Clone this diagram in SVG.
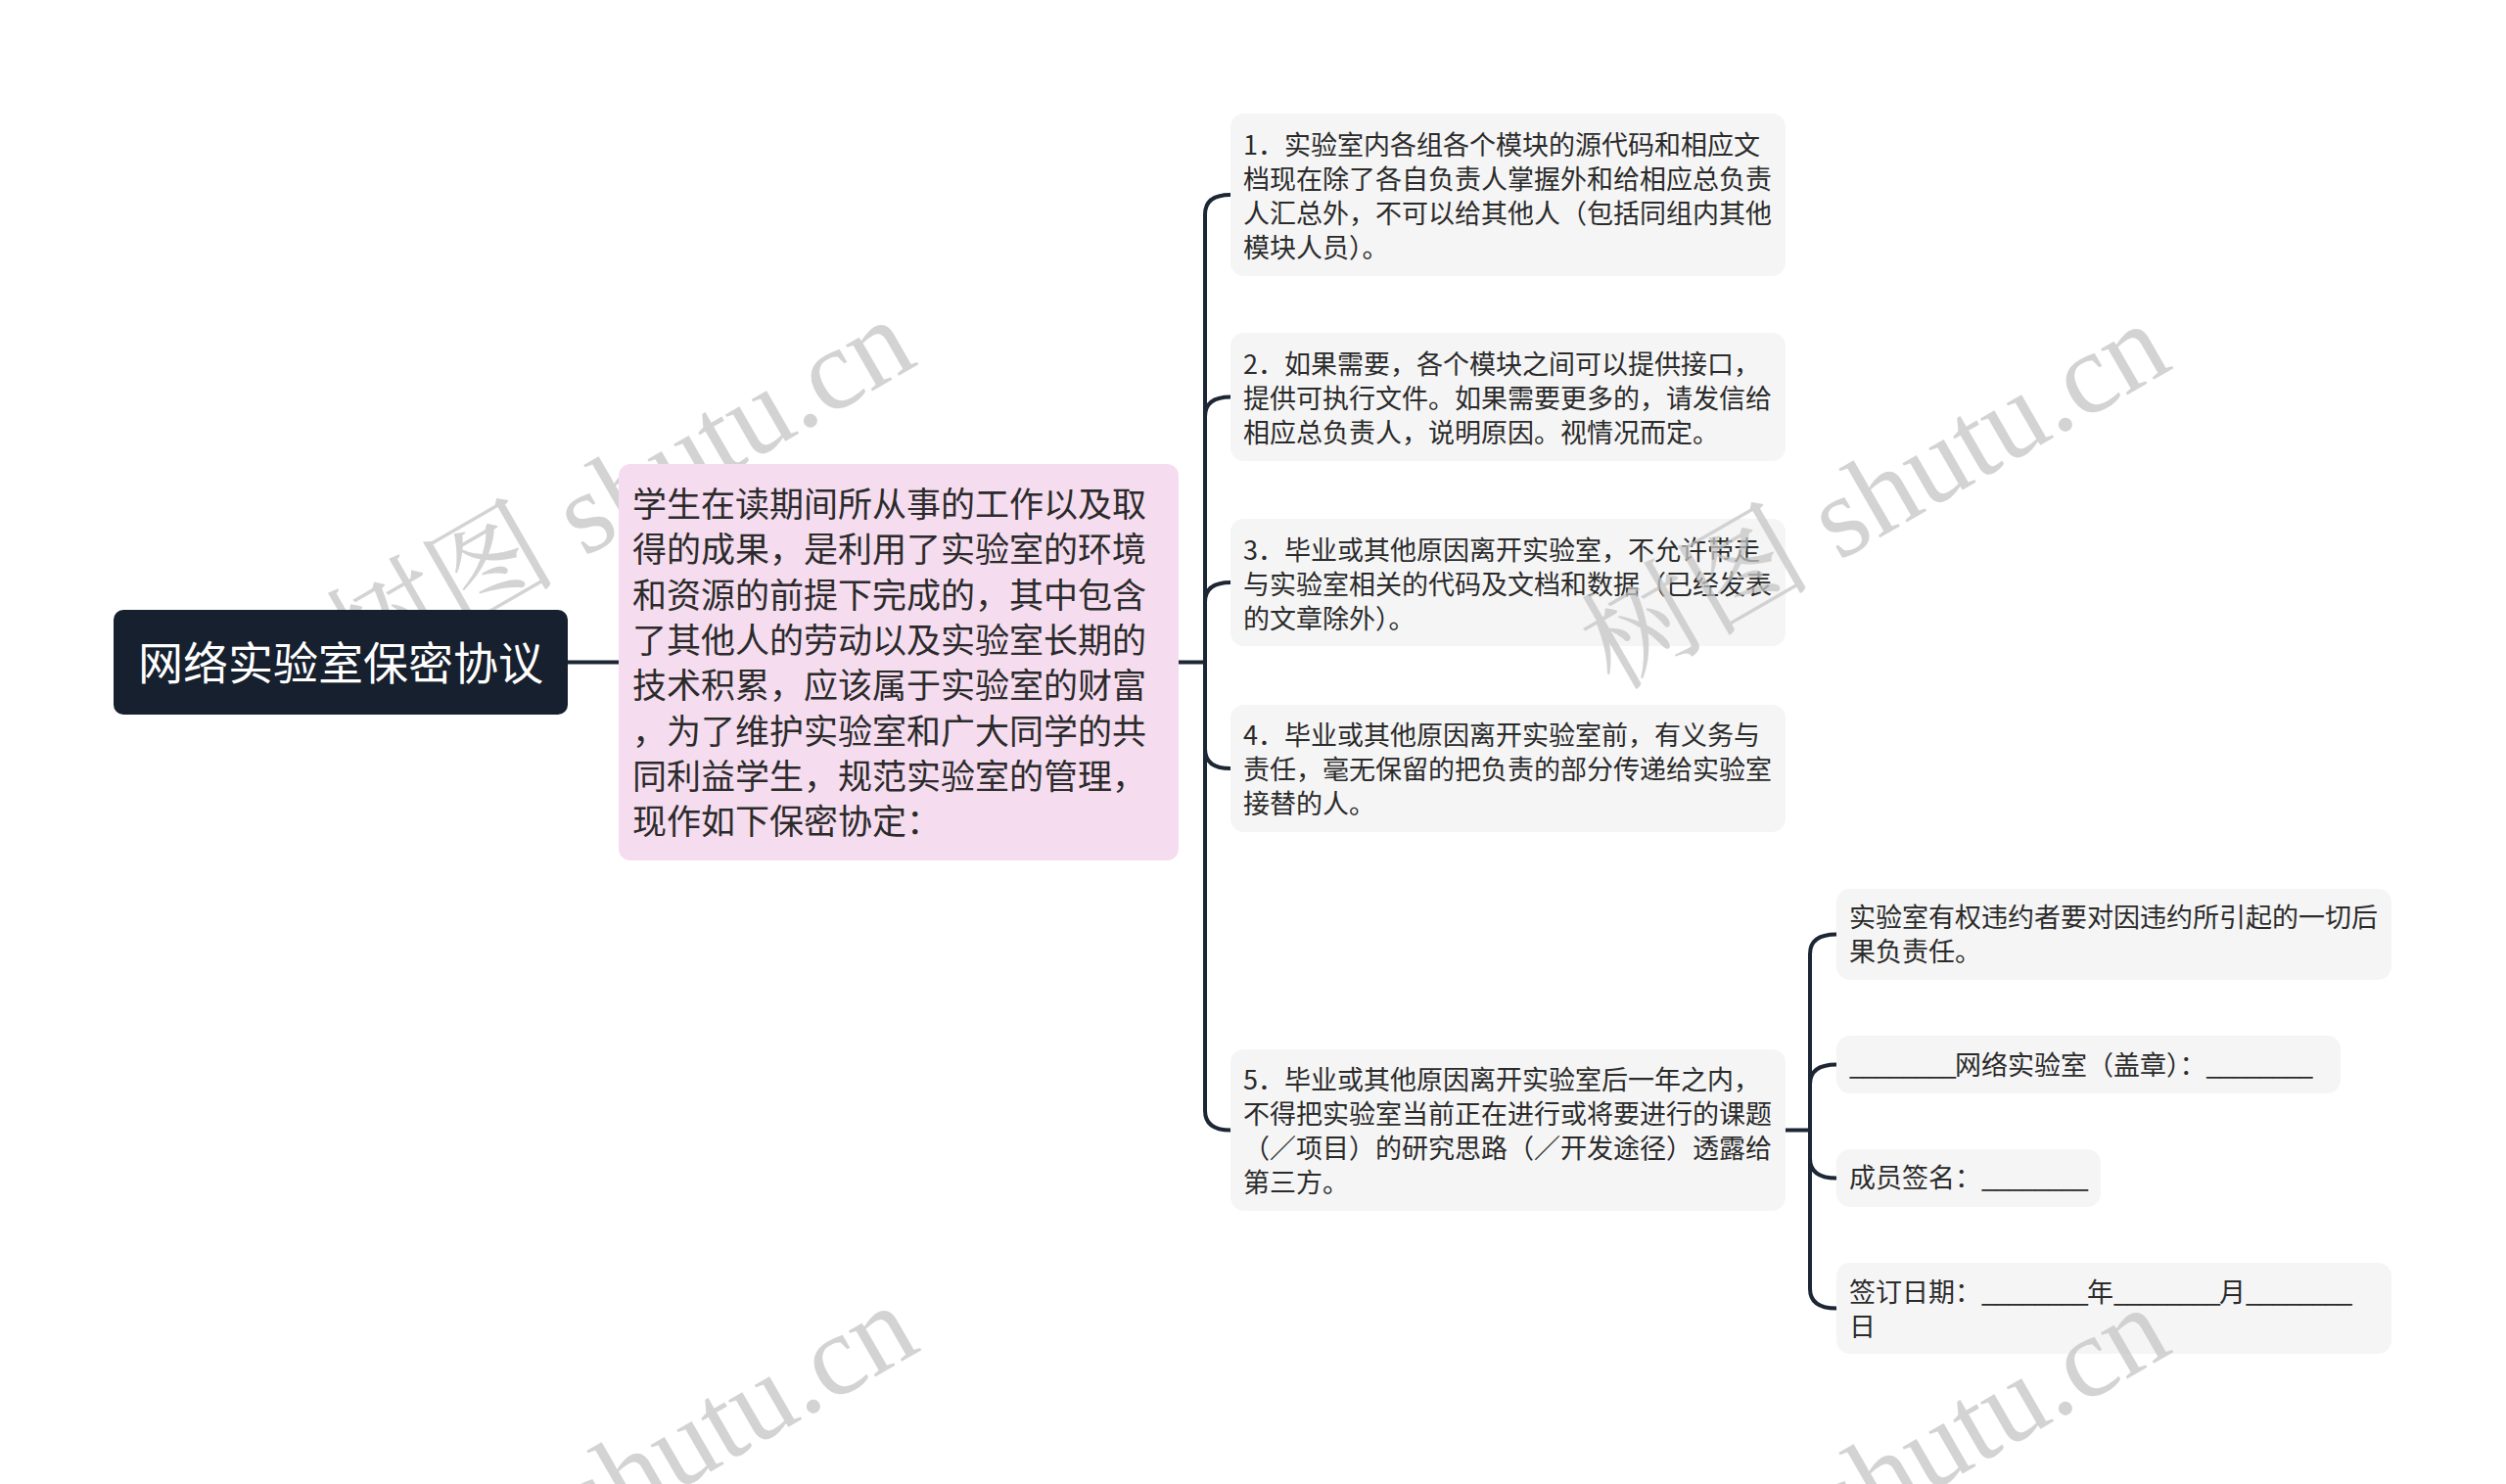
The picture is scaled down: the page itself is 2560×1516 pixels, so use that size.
<svg xmlns="http://www.w3.org/2000/svg" width="2560" height="1516" viewBox="0 0 2560 1516">
<style>
.conn{fill:none;stroke:#1c2635;stroke-width:4;stroke-linecap:round;stroke-linejoin:round}
.leaf{fill:#f5f5f5}
.t{font-family:"Noto Sans CJK SC","Noto Sans",sans-serif;fill:#2b2b2b}
.s27{font-size:27px}
.u{letter-spacing:-1.6px}
.wm{font-family:"Liberation Serif","Noto Serif CJK SC","Noto Sans CJK SC",serif;font-size:118px;fill:#c4c4c4;fill-opacity:0.75}
</style>
<rect width="2560" height="1516" fill="#ffffff"/>
<g id="connectors">
<path class="conn" d="M580 676.5H632"/>
<path class="conn" d="M1204 676.5H1231"/>
<path class="conn" d="M1231 676.5V219Q1231 199 1257 199"/>
<path class="conn" d="M1231 676.5V425.5Q1231 405.5 1257 405.5"/>
<path class="conn" d="M1231 676.5V615Q1231 595 1257 595"/>
<path class="conn" d="M1231 676.5V765Q1231 785 1257 785"/>
<path class="conn" d="M1231 676.5V1134.5Q1231 1154.5 1257 1154.5"/>
<path class="conn" d="M1824 1154.5H1849"/>
<path class="conn" d="M1849 1154.5V974.5Q1849 954.5 1876 954.5"/>
<path class="conn" d="M1849 1154.5V1107.5Q1849 1087.5 1876 1087.5"/>
<path class="conn" d="M1849 1154.5V1183.5Q1849 1203.5 1876 1203.5"/>
<path class="conn" d="M1849 1154.5V1316.5Q1849 1336.5 1876 1336.5"/>
</g>
<g id="n1">
<rect class="leaf" x="1257" y="116" width="567" height="166" rx="14"/>
<text class="t s27"><tspan x="1270" y="158">1．实验室内各组各个模块的源代码和相应文</tspan><tspan x="1270" y="193">档现在除了各自负责人掌握外和给相应总负责</tspan><tspan x="1270" y="228">人汇总外，不可以给其他人（包括同组内其他</tspan><tspan x="1270" y="263">模块人员）。</tspan></text>
</g>
<g id="n2">
<rect class="leaf" x="1257" y="340" width="567" height="131" rx="14"/>
<text class="t s27"><tspan x="1270" y="382">2．如果需要，各个模块之间可以提供接口，</tspan><tspan x="1270" y="417">提供可执行文件。如果需要更多的，请发信给</tspan><tspan x="1270" y="452">相应总负责人，说明原因。视情况而定。</tspan></text>
</g>
<g id="n3">
<rect class="leaf" x="1257" y="530" width="567" height="130" rx="14"/>
<text class="t s27"><tspan x="1270" y="572">3．毕业或其他原因离开实验室，不允许带走</tspan><tspan x="1270" y="607">与实验室相关的代码及文档和数据（已经发表</tspan><tspan x="1270" y="642">的文章除外）。</tspan></text>
</g>
<g id="n4">
<rect class="leaf" x="1257" y="720" width="567" height="130" rx="14"/>
<text class="t s27"><tspan x="1270" y="761">4．毕业或其他原因离开实验室前，有义务与</tspan><tspan x="1270" y="796">责任，毫无保留的把负责的部分传递给实验室</tspan><tspan x="1270" y="831">接替的人。</tspan></text>
</g>
<g id="n5">
<rect class="leaf" x="1257" y="1072" width="567" height="165" rx="14"/>
<text class="t s27"><tspan x="1270" y="1113">5．毕业或其他原因离开实验室后一年之内，</tspan><tspan x="1270" y="1148">不得把实验室当前正在进行或将要进行的课题</tspan><tspan x="1270" y="1183">（／项目）的研究思路（／开发途径）透露给</tspan><tspan x="1270" y="1218">第三方。</tspan></text>
</g>
<g id="n5a">
<rect class="leaf" x="1876" y="908" width="567" height="93" rx="14"/>
<text class="t s27"><tspan x="1889" y="947">实验室有权违约者要对因违约所引起的一切后</tspan><tspan x="1889" y="982">果负责任。</tspan></text>
</g>
<g id="n5b">
<rect class="leaf" x="1876" y="1058" width="515" height="59" rx="14"/>
<text class="t s27" x="1889" y="1098"><tspan class="u">________</tspan>网络实验室（盖章）：<tspan class="u">________</tspan></text>
</g>
<g id="n5c">
<rect class="leaf" x="1876" y="1174" width="270" height="59" rx="14"/>
<text class="t s27" x="1889" y="1213">成员签名：<tspan class="u">________</tspan></text>
</g>
<g id="n5d">
<rect class="leaf" x="1876" y="1290" width="567" height="93" rx="14"/>
<text class="t s27"><tspan x="1889" y="1330">签订日期：<tspan class="u">________</tspan>年<tspan class="u">________</tspan>月<tspan class="u">________</tspan></tspan><tspan x="1889" y="1365">日</tspan></text>
</g>
<g id="watermarks">
<text class="wm" text-anchor="end" transform="translate(826 430) rotate(-30)" x="128" y="6">树图 shutu.cn</text>
<text class="wm" text-anchor="end" transform="translate(2108 434) rotate(-30)" x="128" y="6">树图 shutu.cn</text>
<text class="wm" text-anchor="end" transform="translate(829 1437) rotate(-30)" x="128" y="6">树图 shutu.cn</text>
<text class="wm" text-anchor="end" transform="translate(2108 1439) rotate(-30)" x="128" y="6">树图 shutu.cn</text>
</g>
<g id="root">
<rect x="116" y="623" width="464" height="107" rx="10" fill="#16202e"/>
<text x="348" y="694" text-anchor="middle" font-family="Noto Sans CJK SC, Noto Sans, sans-serif" font-size="46" fill="#ffffff">网络实验室保密协议</text>
</g>
<g id="intro">
<rect x="632" y="474" width="572" height="405" rx="12" fill="#f6dcef"/>
<text class="t" font-size="35"><tspan x="646" y="528">学生在读期间所从事的工作以及取</tspan><tspan x="646" y="574.3">得的成果，是利用了实验室的环境</tspan><tspan x="646" y="620.6">和资源的前提下完成的，其中包含</tspan><tspan x="646" y="666.9">了其他人的劳动以及实验室长期的</tspan><tspan x="646" y="713.2">技术积累，应该属于实验室的财富</tspan><tspan x="646" y="759.5">，为了维护实验室和广大同学的共</tspan><tspan x="646" y="805.8">同利益学生，规范实验室的管理，</tspan><tspan x="646" y="852.1">现作如下保密协定：</tspan></text>
</g>
</svg>
